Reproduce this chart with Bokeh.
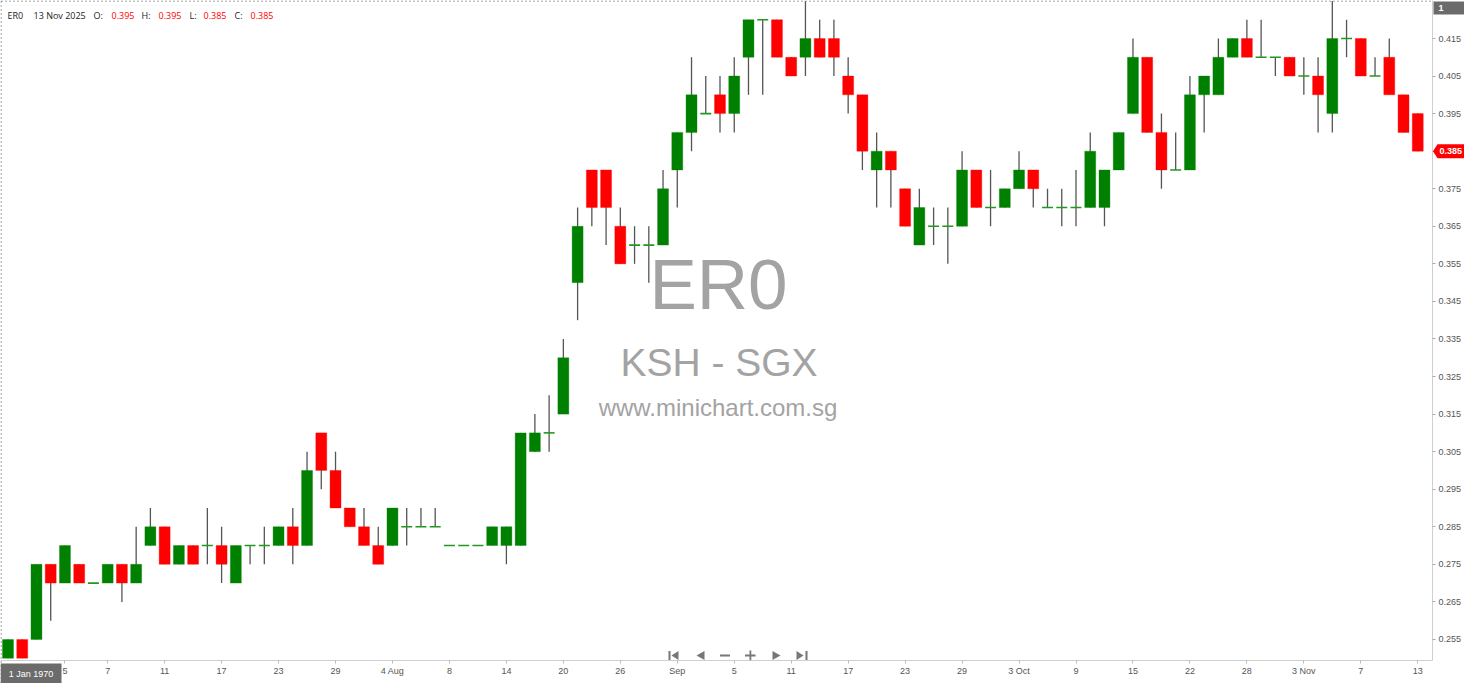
from bokeh.plotting import figure
from bokeh.models import (FixedTicker, PrintfTickFormatter, Range1d, Label,
                          BoxAnnotation, PolyAnnotation, ColumnDataSource, GridBox)
from bokeh.core.properties import value
from bokeh.embed import file_html
from bokeh.resources import INLINE

# ---------------- data ----------------
symbol = "ER0"
exchange = "KSH - SGX"
site = "www.minichart.com.sg"
last_date = "13 Nov 2025"
cursor_date = "1 Jan 1970"

opens = [0.250, 0.255, 0.255, 0.275, 0.270, 0.275, 0.270, 0.270, 0.275, 0.270,
         0.280, 0.285, 0.275, 0.280, 0.280, 0.280, 0.270, 0.280, 0.280, 0.280,
         0.285, 0.280, 0.310, 0.300, 0.290, 0.285, 0.280, 0.280, 0.285, 0.285,
         0.285, 0.280, 0.280, 0.280, 0.280, 0.280, 0.280, 0.305, 0.310, 0.315,
         0.350, 0.380, 0.380, 0.365, 0.360, 0.360, 0.360, 0.380, 0.390, 0.395,
         0.400, 0.395, 0.410, 0.420, 0.420, 0.410, 0.410, 0.415, 0.415, 0.405,
         0.400, 0.380, 0.385, 0.375, 0.360, 0.365, 0.365, 0.365, 0.380, 0.370,
         0.370, 0.375, 0.380, 0.370, 0.370, 0.370, 0.370, 0.370, 0.380, 0.395,
         0.410, 0.390, 0.380, 0.380, 0.400, 0.400, 0.410, 0.415, 0.410, 0.410,
         0.410, 0.405, 0.405, 0.395, 0.415, 0.415, 0.405, 0.410, 0.400, 0.395]
highs = [0.255, 0.255, 0.275, 0.275, 0.280, 0.275, 0.270, 0.275, 0.275, 0.285,
         0.290, 0.285, 0.280, 0.280, 0.290, 0.285, 0.280, 0.280, 0.285, 0.285,
         0.290, 0.305, 0.310, 0.305, 0.290, 0.290, 0.285, 0.290, 0.290, 0.290,
         0.290, 0.280, 0.280, 0.280, 0.285, 0.285, 0.310, 0.315, 0.320, 0.335,
         0.370, 0.380, 0.380, 0.370, 0.365, 0.365, 0.380, 0.390, 0.410, 0.405,
         0.405, 0.410, 0.420, 0.420, 0.420, 0.410, 0.425, 0.420, 0.420, 0.410,
         0.400, 0.390, 0.385, 0.375, 0.375, 0.370, 0.370, 0.385, 0.380, 0.380,
         0.375, 0.385, 0.380, 0.375, 0.375, 0.380, 0.390, 0.380, 0.390, 0.415,
         0.410, 0.395, 0.390, 0.405, 0.405, 0.415, 0.415, 0.420, 0.420, 0.410,
         0.410, 0.410, 0.410, 0.425, 0.420, 0.415, 0.410, 0.415, 0.400, 0.395]
lows = [0.250, 0.250, 0.255, 0.260, 0.270, 0.270, 0.270, 0.270, 0.265, 0.270,
        0.280, 0.275, 0.275, 0.275, 0.275, 0.270, 0.270, 0.275, 0.275, 0.280,
        0.275, 0.280, 0.295, 0.290, 0.285, 0.280, 0.275, 0.280, 0.280, 0.285,
        0.285, 0.280, 0.280, 0.280, 0.280, 0.275, 0.280, 0.305, 0.305, 0.315,
        0.340, 0.365, 0.360, 0.355, 0.355, 0.350, 0.360, 0.370, 0.385, 0.395,
        0.390, 0.390, 0.400, 0.400, 0.410, 0.405, 0.405, 0.410, 0.405, 0.395,
        0.380, 0.370, 0.370, 0.365, 0.360, 0.360, 0.355, 0.365, 0.370, 0.365,
        0.370, 0.375, 0.370, 0.370, 0.365, 0.365, 0.370, 0.365, 0.380, 0.395,
        0.390, 0.375, 0.380, 0.380, 0.390, 0.400, 0.410, 0.410, 0.410, 0.405,
        0.405, 0.400, 0.390, 0.390, 0.410, 0.405, 0.405, 0.400, 0.390, 0.385]
closes = [0.255, 0.250, 0.275, 0.270, 0.280, 0.270, 0.270, 0.275, 0.270, 0.275,
          0.285, 0.275, 0.280, 0.275, 0.280, 0.275, 0.280, 0.280, 0.280, 0.285,
          0.280, 0.300, 0.300, 0.290, 0.285, 0.280, 0.275, 0.290, 0.285, 0.285,
          0.285, 0.280, 0.280, 0.280, 0.285, 0.285, 0.310, 0.310, 0.310, 0.330,
          0.365, 0.370, 0.370, 0.355, 0.360, 0.360, 0.375, 0.390, 0.400, 0.395,
          0.395, 0.405, 0.420, 0.420, 0.410, 0.405, 0.415, 0.410, 0.410, 0.400,
          0.385, 0.385, 0.380, 0.365, 0.370, 0.365, 0.365, 0.380, 0.370, 0.370,
          0.375, 0.380, 0.375, 0.370, 0.370, 0.370, 0.385, 0.380, 0.390, 0.410,
          0.390, 0.380, 0.380, 0.400, 0.405, 0.410, 0.415, 0.410, 0.410, 0.410,
          0.405, 0.405, 0.400, 0.415, 0.415, 0.405, 0.405, 0.400, 0.390, 0.385]

date_tick_pos = [4, 7, 11, 15, 19, 23, 27, 31, 35, 39, 43, 47, 51, 55, 59, 63,
                 67, 71, 75, 79, 83, 87, 91, 95, 99]
date_tick_labels = ["5", "7", "11", "17", "23", "29", "4 Aug", "8", "14", "20",
                    "26", "Sep", "5", "11", "17", "23", "29", "3 Oct", "9", "15",
                    "22", "28", "3 Nov", "7", "13"]
price_ticks = [0.255, 0.265, 0.275, 0.285, 0.295, 0.305, 0.315, 0.325, 0.335,
               0.345, 0.355, 0.365, 0.375, 0.385, 0.395, 0.405, 0.415]

# ---------------- styling constants ----------------
UP = "#008000"
DOWN = "#ff0000"
WICK = "#555555"
DOJI = "#1f9a1f"
FONT = "Open Sans"
AXFONT = "Liberation Sans"
BOXGRAY = "#6b6b6b"

# reference pixel -> data helpers (used for decorations only)
X0_PX, DX_PX = 7.5, 14.24
Y_REF_V, Y_REF_PX, PX_PER_UNIT = 0.415, 47.0, 3756.0


def RX(px):
    return (px - X0_PX) / DX_PX


def RY(py):
    return Y_REF_V - (py - Y_REF_PX) / PX_PER_UNIT


W, H = 1464, 683
BR, BB = 32, 23
FW, FH = W - BR, H - BB
SHIFT = 9
x_start = RX(0)
x_end = x_start + FW / DX_PX
y_end = RY(SHIFT)
y_start = y_end - FH / PX_PER_UNIT
ppu = PX_PER_UNIT
ppx = DX_PX

p = figure(width=W, height=H, output_backend="svg", toolbar_location=None,
           x_range=Range1d(x_start, x_end), y_range=Range1d(y_start, y_end),
           y_axis_location="right", min_border_left=0, min_border_top=0,
           min_border_right=BR, min_border_bottom=BB)
p.outline_line_color = None
p.background_fill_color = "white"
p.border_fill_color = "white"
p.xgrid.visible = False
p.ygrid.visible = False
p.frame_align = False

# axes
yax = p.yaxis[0]
yax.ticker = FixedTicker(ticks=price_ticks)
yax.formatter = PrintfTickFormatter(format="%.3f")
yax.major_label_text_font = AXFONT
yax.major_label_text_font_size = "9px"
yax.major_label_text_color = "#555555"
yax.axis_line_color = "#cfcfcf"
yax.major_tick_line_color = "#aaaaaa"
yax.major_tick_out = 3
yax.major_tick_in = 0
yax.minor_tick_line_color = None
yax.major_label_standoff = 3

xax = p.xaxis[0]
xax.ticker = FixedTicker(ticks=date_tick_pos)
xax.major_label_overrides = {k: v for k, v in zip(date_tick_pos, date_tick_labels)}
xax.major_label_text_font = AXFONT
xax.major_label_text_font_size = "9px"
xax.major_label_text_color = "#555555"
xax.axis_line_color = "#cfcfcf"
xax.major_tick_line_color = "#bbbbbb"
xax.major_tick_out = 3
xax.major_tick_in = 0
xax.minor_tick_line_color = None
xax.major_label_standoff = 2

# watermark (centres of the reference text)
WM = "#a3a3a3"
p.add_layout(Label(x=RX(718), y=RY(292.5), text=symbol, text_font="Liberation Sans",
                   text_font_size="71px", text_color=WM, text_align="center",
                   text_baseline="middle", level="underlay"))
p.add_layout(Label(x=RX(718.5), y=RY(371), text=exchange, text_font="Liberation Sans",
                   text_font_size="39px", text_color=WM, text_align="center",
                   text_baseline="middle", level="underlay"))
p.add_layout(Label(x=RX(717.5), y=RY(416), text=site, text_font="Liberation Sans",
                   text_font_size="24px", text_color=WM, text_align="center",
                   text_baseline="middle", level="underlay"))

# ---------------- candles ----------------
n = len(opens)
idx = list(range(n))
up = dict(x=[], top=[], bottom=[])
dn = dict(x=[], top=[], bottom=[])
dj = dict(x0=[], x1=[], y=[])
BW = 0.77
for i in idx:
    o, c = opens[i], closes[i]
    if abs(o - c) < 1e-9:
        dj["x0"].append(i - BW / 2)
        dj["x1"].append(i + BW / 2)
        dj["y"].append(c)
    elif c > o:
        up["x"].append(i); up["top"].append(c); up["bottom"].append(o)
    else:
        dn["x"].append(i); dn["top"].append(o); dn["bottom"].append(c)

wick_src = ColumnDataSource(dict(x=idx, high=highs, low=lows))
p.segment(x0="x", y0="low", x1="x", y1="high", source=wick_src,
          line_color=WICK, line_width=1.3)
p.vbar(x="x", top="top", bottom="bottom", width=BW, source=ColumnDataSource(up),
       fill_color=UP, line_color=UP, line_alpha=0.35, line_width=1)
p.vbar(x="x", top="top", bottom="bottom", width=BW, source=ColumnDataSource(dn),
       fill_color=DOWN, line_color=DOWN, line_alpha=0.35, line_width=1)
p.segment(x0="x0", y0="y", x1="x1", y1="y", source=ColumnDataSource(dj),
          line_color=DOJI, line_width=1.6)

# ---------------- header (OHLC of last bar) ----------------
last_o, last_h, last_l, last_c = opens[-1], highs[-1], lows[-1], closes[-1]
hdr_y = y_end - 15 / ppu
hdr = [(7, symbol, "#222222"), (33, last_date, "#222222"),
       (93, "O:", "#222222"), (111, f"{last_o:.3f}", DOWN),
       (141, "H:", "#222222"), (158, f"{last_h:.3f}", DOWN),
       (189, "L:", "#222222"), (203, f"{last_l:.3f}", DOWN),
       (234, "C:", "#222222"), (250, f"{last_c:.3f}", DOWN)]
for xp, t, col in hdr:
    p.add_layout(Label(x=RX(xp), y=hdr_y, text=t, text_font=FONT, text_font_size="9px",
                       text_color=col, text_align="left", text_baseline="middle"))

# ---------------- navigation icons ----------------
NAV = "#777777"
cy = RY(664)
th = 4.5 / ppu


def tri(left_px, right_px, pointing_left):
    a, b = RX(left_px), RX(right_px)
    if pointing_left:
        return PolyAnnotation(xs=[a, b, b], ys=[cy, cy + th, cy - th], fill_color=NAV,
                              fill_alpha=1.0, line_color=None)
    return PolyAnnotation(xs=[a, b, a], ys=[cy + th, cy, cy - th], fill_color=NAV,
                          fill_alpha=1.0, line_color=None)


def bar(left_px, right_px, half=4.5):
    return BoxAnnotation(left=RX(left_px), right=RX(right_px), top=cy + half / ppu,
                         bottom=cy - half / ppu, fill_color=NAV, fill_alpha=1.0,
                         line_color=None)


p.add_layout(bar(668, 670))
p.add_layout(tri(671, 678, True))
p.add_layout(tri(696, 704, True))
p.add_layout(bar(719.5, 729.5, 0.9))
p.add_layout(bar(744.5, 755, 0.9))
p.add_layout(bar(749, 750.8, 5))
p.add_layout(tri(772, 780, False))
p.add_layout(tri(796, 803, False))
p.add_layout(bar(805, 807))

# ---------------- transparent overlay for things drawn in the margins ----------------
ov = figure(width=W, height=H, output_backend="svg", toolbar_location=None,
            x_range=Range1d(0, W), y_range=Range1d(H, 0), min_border=0,
            x_axis_type=None, y_axis_type=None)
ov.outline_line_color = None
ov.background_fill_alpha = 0.0
ov.border_fill_alpha = 0.0
ov.xgrid.visible = False
ov.ygrid.visible = False
ov.frame_align = False

# dashed border on top and left edges
ov.segment(x0=[0.5, 0.5], y0=[0.5, 0.5], x1=[FW, 0.5], y1=[0.5, H],
           line_color="#888888", line_dash="2 2", line_width=1)

# last price marker (position follows the price scale of the main figure)
my = (y_end - last_c) * ppu
ax_x = FW
ov.patch(x=[ax_x + 0.5, ax_x + 5, W, W, ax_x + 5],
         y=[my, my - 7, my - 7, my + 7, my + 7], fill_color=DOWN, line_color=None)
ov.text(x=[ax_x + 7], y=[my], text=[f"{last_c:.3f}"], text_font=value(AXFONT),
        text_font_size="9px", text_font_style="bold", text_color="white",
        text_align="left", text_baseline="middle")

# "1" box on top of the price axis
ov.quad(left=[ax_x + 1], right=[W], top=[1], bottom=[14], fill_color=BOXGRAY,
        line_color=None)
ov.text(x=[ax_x + 6], y=[7.5], text=["1"], text_font=value(AXFONT), text_font_size="9px",
        text_font_style="bold", text_color="white", text_align="left",
        text_baseline="middle")

# cursor date box at bottom-left of the time axis
ov.quad(left=[0], right=[61], top=[FH + 3], bottom=[H], fill_color=BOXGRAY,
        line_color=None)
ov.text(x=[30.5], y=[(FH + 3 + H) / 2], text=[cursor_date], text_font=value(AXFONT),
        text_font_size="9px", text_color="white", text_align="center",
        text_baseline="middle")

layout = GridBox(children=[(p, 0, 0), (ov, 0, 0)])

open("out.html", "w").write(file_html(layout, INLINE))
